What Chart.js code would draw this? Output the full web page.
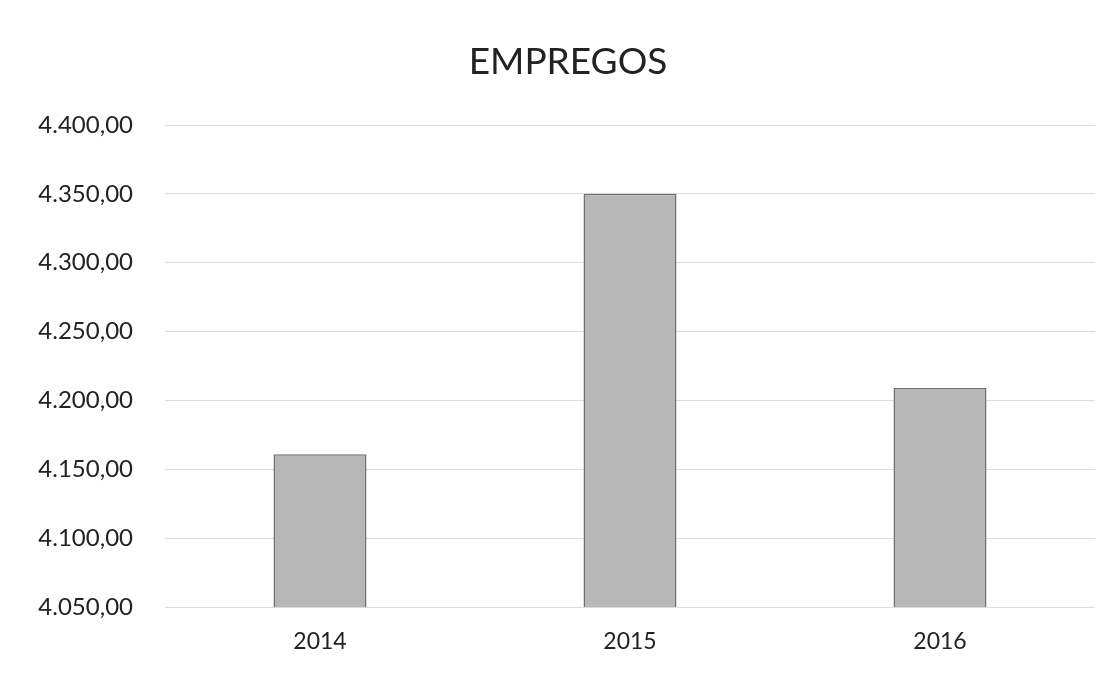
<!DOCTYPE html>
<html>
<head>
<meta charset="utf-8">
<script src="https://cdn.jsdelivr.net/npm/chart.js@4/dist/chart.umd.min.js"></script>
<style>
html,body{margin:0;padding:0;background:#fff;}
#wrap{width:1117px;height:677px;position:relative;}
</style>
</head>
<body>
<div id="wrap"><canvas id="c" width="1117" height="677"></canvas></div>
<script>
const categories = ["2014", "2015", "2016"];
const empregos = [4161, 4350, 4209];
const yMin = 4050, yMax = 4400, yStep = 50;
const chartTitle = "EMPREGOS";

const fmt = new Intl.NumberFormat('pt-BR', {minimumFractionDigits: 2, maximumFractionDigits: 2});

const titlePlugin = {
  id: 'offsetTitle',
  afterDraw(chart) {
    const ctx = chart.ctx;
    ctx.save();
    ctx.font = 'normal 37px Lato';
    ctx.fillStyle = '#222';
    ctx.textAlign = 'center';
    ctx.textBaseline = 'middle';
    ctx.fillText(chartTitle, 568, 62);
    ctx.restore();
  }
};

new Chart(document.getElementById('c'), {
  type: 'bar',
  data: {
    labels: categories,
    datasets: [{
      label: chartTitle,
      data: empregos,
      backgroundColor: '#b7b7b7',
      borderColor: '#707070',
      borderWidth: 1.5,
      borderSkipped: false,
      categoryPercentage: 1,
      barPercentage: 0.30
    }]
  },
  plugins: [titlePlugin],
  options: {
    responsive: false,
    animation: false,
    devicePixelRatio: 1,
    layout: {padding: {left: 0, right: 22, top: 125, bottom: 0}},
    plugins: {
      legend: {display: false},
      tooltip: {enabled: false},
      title: {display: false}
    },
    scales: {
      x: {
        grid: {display: false, drawTicks: false},
        border: {display: false},
        ticks: {color: '#222', font: {family: 'Lato', size: 23}, padding: 21},
        afterFit: (s) => { s.height = 70; }
      },
      y: {
        min: yMin, max: yMax,
        grid: {color: '#dcdcdc', drawTicks: false, lineWidth: 1},
        border: {display: false},
        ticks: {
          stepSize: yStep,
          color: '#222',
          font: {family: 'Lato', size: 24},
          padding: 32,
          callback: (v) => fmt.format(v)
        },
        afterFit: (s) => { s.width = 165; }
      }
    }
  }
});
</script>
</body>
</html>
